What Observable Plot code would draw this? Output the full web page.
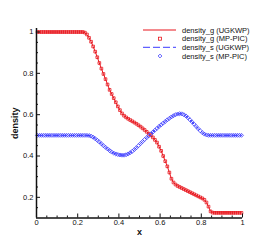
<!DOCTYPE html>
<html><head><meta charset="utf-8">
<script src="https://cdn.jsdelivr.net/npm/d3@7"></script>
<script src="https://cdn.jsdelivr.net/npm/@observablehq/plot@0.6"></script>
<style>
body{margin:0;background:#fff;}
#chart{position:relative;width:276px;height:245px;}
#chart svg{display:block;}
g[aria-label="x-axis label"] text, g[aria-label="y-axis label"] text{font-weight:bold;font-size:9px;}
</style>
</head><body><div id="chart"></div>
<script>
const xCells = d3.range(100).map(i => (i + 0.5) / 100);
const rhoG = [
  1,1,1,1,1,1,1,1,1,1, 1,1,1,1,1,1,1,1,1,1, 1,1,1,
  0.997,0.988,0.972,0.953,0.93,0.905,0.878,0.85,0.823,0.797,
  0.772,0.746,0.72,0.7,0.68,0.66,0.64,0.622,0.606,0.595,
  0.587,0.58,0.574,0.568,0.562,0.556,0.549,0.542,0.534,0.526,
  0.517,0.508,0.5,0.49,0.478,0.465,0.445,0.425,0.40,0.375,
  0.35,0.32,0.29,0.272,0.262,0.255,0.25,0.245,0.24,0.235,
  0.23,0.225,0.22,0.215,0.21,0.205,0.2,0.195,0.188,0.175,
  0.155,0.132,0.126,
  0.125,0.125,0.125,0.125,0.125,0.125,0.125,0.125,0.125,0.125,0.125,0.125,0.125,0.125
];
const rhoS = [
  0.5,0.5,0.5,0.5,0.5,0.5,0.5,0.5,0.5,0.5, 0.5,0.5,0.5,0.5,0.5,0.5,0.5,0.5,0.5,0.5, 0.5,0.5,0.5,0.5,0.5,
  0.499,0.496,0.491,0.484,0.476,0.468,0.459,0.45,0.442,0.434,
  0.426,0.419,0.414,0.41,0.407,0.405,0.404,0.404,0.406,0.41,
  0.416,0.423,0.431,0.44,0.45,0.46,0.47,0.48,0.489,0.498,
  0.507,0.516,0.525,0.534,0.543,0.551,0.559,0.567,0.575,0.582,
  0.589,0.595,0.6,0.603,0.605,0.604,0.6,0.594,0.585,0.575,
  0.565,0.554,0.543,0.532,0.522,0.513,0.506,0.502,0.5,
  0.5,0.5,0.5,0.5,0.5,0.5,0.5,0.5,0.5,0.5,0.5,0.5,0.5,0.5,0.5,0.5
];
const xMajor = [0, 0.2, 0.4, 0.6, 0.8, 1];
const xMinor = [0.05,0.1,0.15,0.25,0.3,0.35,0.45,0.5,0.55,0.65,0.7,0.75,0.85,0.9,0.95];
const yMajor = [0.2, 0.4, 0.6, 0.8, 1];
const yMinor = [0.15,0.25,0.3,0.35,0.45,0.5,0.55,0.65,0.7,0.75,0.85,0.9,0.95];
const legendLabels = ["density_g (UGKWP)", "density_g (MP-PIC)", "density_s (UGKWP)", "density_s (MP-PIC)"];

const red = "#e8141c", blue = "#3a3aff";
const gData = xCells.map((x, i) => ({x, y: rhoG[i]}));
const sData = xCells.map((x, i) => ({x, y: rhoS[i]}));
const fmt = d => String(+d.toFixed(2));

const plot = Plot.plot({
  width: 276, height: 245,
  marginLeft: 36, marginRight: 34, marginTop: 28, marginBottom: 27.5,
  x: {domain: [0, 1]},
  y: {domain: [0.1, 1.017]},
  style: {fontFamily: "'Liberation Sans', Arial, sans-serif", fontSize: "7.5px", color: "#111", background: "#fff"},
  marks: [
    Plot.line(gData, {x: "x", y: "y", stroke: red, strokeWidth: 1}),
    Plot.line(sData, {x: "x", y: "y", stroke: blue, strokeWidth: 1, strokeDasharray: "5,3"}),
    Plot.dot(gData, {x: "x", y: "y", symbol: "square", r: 1.5, stroke: red, strokeWidth: 0.8, fill: "none"}),
    Plot.dot(sData, {x: "x", y: "y", symbol: "diamond2", r: 1.8, stroke: blue, strokeWidth: 0.8, fill: "none"}),
    Plot.ruleX([0], {stroke: "#111", strokeWidth: 1.5}),
    Plot.ruleY([0.1], {stroke: "#111", strokeWidth: 1.5}),
    Plot.axisX({ticks: xMajor, tickSize: 4, dy: -4, tickFormat: () => "", label: null, stroke: "#111"}),
    Plot.axisX({ticks: xMinor, tickSize: 2, dy: -2, tickFormat: () => "", label: null, stroke: "#111"}),
    Plot.axisX({ticks: xMajor, tickSize: 0, tickPadding: 2, tickFormat: fmt, label: "x", labelAnchor: "center", labelOffset: 17, labelArrow: "none"}),
    Plot.axisY({ticks: yMajor, tickSize: 4, dx: 4, tickFormat: () => "", label: null, stroke: "#111"}),
    Plot.axisY({ticks: yMinor, tickSize: 2, dx: 2, tickFormat: () => "", label: null, stroke: "#111"}),
    Plot.axisY({ticks: yMajor, tickSize: 0, tickPadding: 3, tickFormat: fmt, label: "density", labelAnchor: "center", labelOffset: 25, labelArrow: "none"})
  ]
});
document.getElementById("chart").appendChild(plot);

// legend
const svg = d3.select(plot);
const lg = svg.append("g").attr("class", "legend").attr("text-anchor", "start");
const rowY = [30, 38.7, 47.3, 56];
const styles = [
  {type: "line", color: red, dash: null},
  {type: "square", color: red},
  {type: "line", color: blue, dash: "7,3"},
  {type: "diamond", color: blue}
];
legendLabels.forEach((t, i) => {
  const y = rowY[i], s = styles[i];
  if (s.type === "line") {
    lg.append("line").attr("x1", 143).attr("x2", 176).attr("y1", y).attr("y2", y)
      .attr("stroke", s.color).attr("stroke-width", 1).attr("stroke-dasharray", s.dash);
  } else if (s.type === "square") {
    lg.append("rect").attr("x", 158.5).attr("y", y - 1.5).attr("width", 3).attr("height", 3)
      .attr("fill", "none").attr("stroke", s.color).attr("stroke-width", 0.8);
  } else {
    lg.append("path").attr("d", `M160,${y-1.9}L161.9,${y}L160,${y+1.9}L158.1,${y}Z`)
      .attr("fill", "none").attr("stroke", s.color).attr("stroke-width", 0.8);
  }
  lg.append("text").attr("x", 182).attr("y", y).attr("dy", "0.35em").attr("text-anchor", "start")
    .attr("fill", "#111").attr("font-size", "7.5px").text(t);
});
</script>
</body></html>
